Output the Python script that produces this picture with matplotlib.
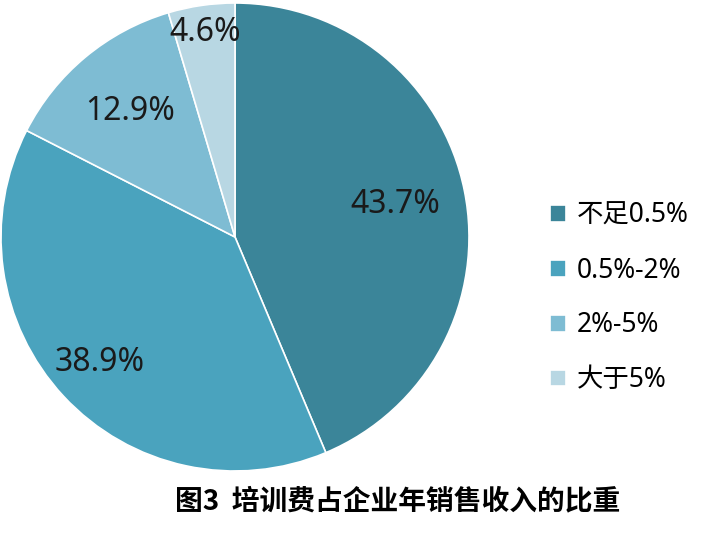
import matplotlib
matplotlib.use('Agg')
import matplotlib.pyplot as plt
import numpy as np

plt.rcParams['font.family'] = ['Noto Sans', 'Noto Sans CJK SC', 'DejaVu Sans']

# data
categories = ['不足0.5%', '0.5%-2%', '2%-5%', '大于5%']
shares = [43.7, 38.9, 12.9, 4.6]
colors = ['#3b8599', '#4aa3be', '#7ebcd3', '#b8d7e3']
label_radius = [0.70, 0.79, 0.70, 0.885]
title = '图3  培训费占企业年销售收入的比重'

W, H = 703, 537
fig = plt.figure(figsize=(W / 100, H / 100), dpi=100)

# pie area: centre (235, 237) px, radius ~234 px
cx, cy, r = 235, 237, 234
ax = fig.add_axes([(cx - r) / W, (H - cy - r) / H, 2 * r / W, 2 * r / H])
wedges, _ = ax.pie(shares, colors=colors, startangle=90, counterclock=False,
                   radius=1.0, wedgeprops=dict(edgecolor='white', linewidth=1.2))
ax.set_xlim(-1, 1)
ax.set_ylim(-1, 1)
ax.set_aspect('equal')
ax.axis('off')

for w, val, rr in zip(wedges, shares, label_radius):
    ang = np.deg2rad((w.theta1 + w.theta2) / 2)
    ax.text(rr * np.cos(ang), rr * np.sin(ang), f'{val}%', ha='center', va='center',
            fontsize=23, color='#1a1a1a')

leg = fig.legend(wedges, categories, loc='center left',
                 bbox_to_anchor=(550 / W, 1 - 298 / H), frameon=False,
                 fontsize=19, handlelength=0.6, handleheight=0.6,
                 handletextpad=0.4, labelspacing=1.02,
                 borderpad=0, borderaxespad=0)

fig.text(398 / W, 1 - 501 / H, title, ha='center', va='center', fontsize=20,
         fontweight='heavy', family=['Noto Sans CJK SC', 'DejaVu Sans'], color='black')

fig.savefig('out.png', dpi=100)
